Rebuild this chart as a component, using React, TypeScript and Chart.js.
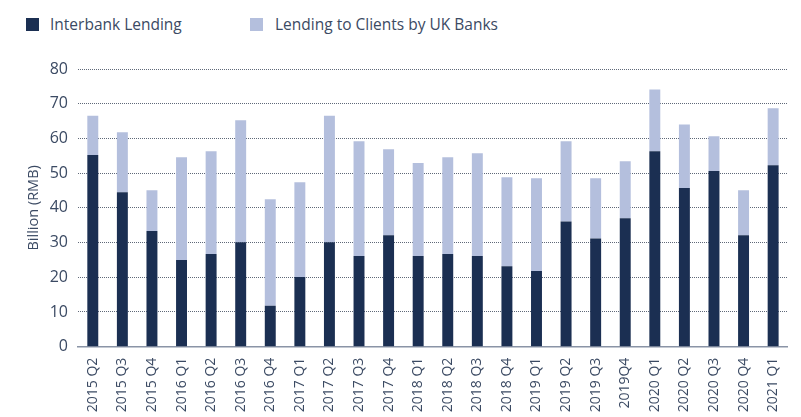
import React, { useEffect, useRef } from "react";
import { Chart, registerables } from "chart.js";

Chart.register(...registerables);

const categories = [
  "2015 Q2", "2015 Q3", "2015 Q4", "2016 Q1", "2016 Q2", "2016 Q3", "2016 Q4", "2017 Q1",
  "2017 Q2", "2017 Q3", "2017 Q4", "2018 Q1", "2018 Q2", "2018 Q3", "2018 Q4", "2019 Q1",
  "2019 Q2", "2019 Q3", "2019Q4", "2020 Q1", "2020 Q2", "2020 Q3", "2020 Q4", "2021 Q1",
];

const interbankLending = [
  55.2, 44.5, 33.3, 25.0, 26.7, 30.1, 11.8, 20.1, 30.1, 26.1, 32.1, 26.1,
  26.7, 26.1, 23.2, 21.8, 36.1, 31.2, 37.0, 56.3, 45.7, 50.6, 32.1, 52.3,
];

const lendingToClients = [
  11.3, 17.3, 11.8, 29.6, 29.6, 35.1, 30.7, 27.3, 36.4, 33.1, 24.8, 26.8,
  27.9, 29.6, 25.6, 26.7, 23.1, 17.3, 16.4, 17.8, 18.3, 10.0, 13.0, 16.4,
];

const yTicks = [0, 10, 20, 30, 40, 50, 60, 70, 80];

const seriesNames = ["Interbank Lending", "Lending to Clients by UK Banks"];
const DARK = "#1b2f52";
const LIGHT = "#b4bfdd";
const TEXT = "#3b4a63";
const FONT = "'Open Sans', 'Noto Sans', sans-serif";

export default function App() {
  const canvasRef = useRef<HTMLCanvasElement | null>(null);

  useEffect(() => {
    if (!canvasRef.current) return;
    const chart = new Chart(canvasRef.current, {
      type: "bar",
      data: {
        labels: categories,
        datasets: [
          {
            label: seriesNames[0],
            data: interbankLending,
            backgroundColor: DARK,
            categoryPercentage: 1,
            barPercentage: 0.37,
          },
          {
            label: seriesNames[1],
            data: lendingToClients,
            backgroundColor: LIGHT,
            categoryPercentage: 1,
            barPercentage: 0.37,
          },
        ],
      },
      options: {
        animation: false,
        responsive: true,
        maintainAspectRatio: false,
        layout: { padding: { top: 69, left: 0, right: 3, bottom: 0 } },
        plugins: {
          legend: { display: false },
          tooltip: { enabled: false },
        },
        scales: {
          x: {
            stacked: true,
            afterFit: (axis: any) => {
              axis.height = 70.3;
            },
            grid: { display: false, drawTicks: false },
            border: { display: true, color: "#8a94a6", width: 1.5 },
            ticks: {
              color: TEXT,
              font: { family: FONT, size: 14 },
              maxRotation: 90,
              minRotation: 90,
              autoSkip: false,
              padding: 11,
            },
          },
          y: {
            stacked: true,
            min: 0,
            max: 80,
            afterFit: (axis: any) => {
              axis.width = 78;
            },
            afterBuildTicks: (axis: any) => {
              axis.ticks = yTicks.map((v) => ({ value: v }));
            },
            grid: {
              color: (ctx: any) => (ctx.tick && ctx.tick.value === 0 ? "rgba(0,0,0,0)" : "#5f6878"),
              lineWidth: 1,
              drawTicks: false,
            },
            border: { display: false, dash: [1, 1] },
            ticks: {
              color: TEXT,
              font: { family: FONT, size: 16 },
              padding: 10,
            },
            title: {
              display: true,
              text: "Billion (RMB)",
              color: TEXT,
              font: { family: FONT, size: 14.5 },
              padding: { top: 25, bottom: 0 },
            },
          },
        },
      },
    });
    return () => chart.destroy();
  }, []);

  return (
    <div style={{ position: "absolute", left: 0, top: 0, width: 801, height: 417, background: "#fff" }}>
      <div
        style={{
          position: "absolute",
          top: 13,
          left: 0,
          width: 801,
          height: 30,
          fontFamily: FONT,
          fontSize: 15.5,
          color: TEXT,
        }}
      >
        <div style={{ position: "absolute", left: 26, top: 5, width: 13, height: 13, background: DARK }} />
        <div style={{ position: "absolute", left: 50, top: 1, lineHeight: "20px", whiteSpace: "nowrap" }}>
          {seriesNames[0]}
        </div>
        <div style={{ position: "absolute", left: 250, top: 5, width: 13, height: 13, background: LIGHT }} />
        <div style={{ position: "absolute", left: 275, top: 1, lineHeight: "20px", whiteSpace: "nowrap" }}>
          {seriesNames[1]}
        </div>
      </div>
      <canvas ref={canvasRef} style={{ position: "absolute", left: 0, top: 0, width: 801, height: 417 }} />
    </div>
  );
}
